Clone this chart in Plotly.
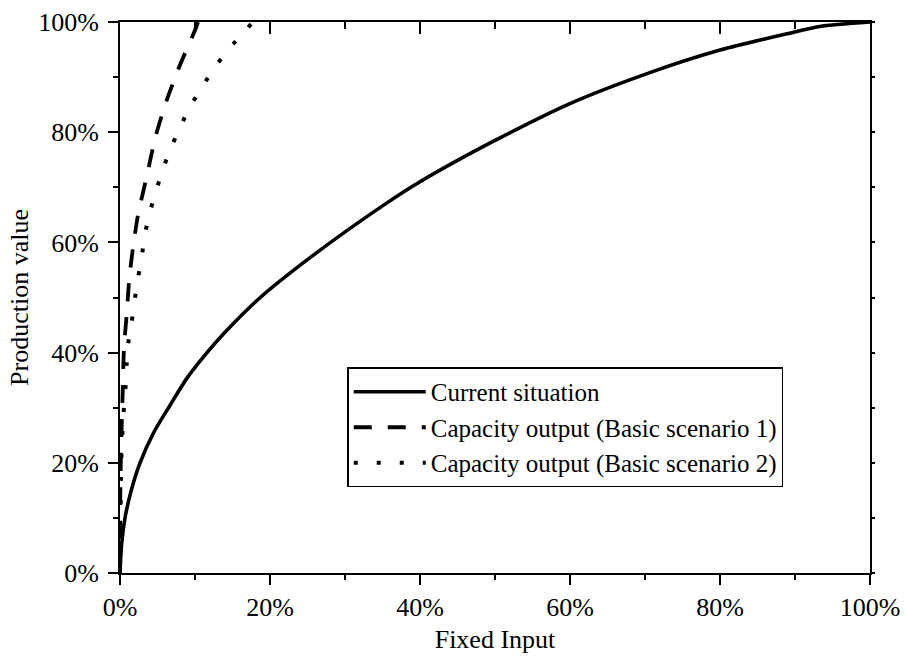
import plotly.graph_objects as go

# Current situation
current_x = [0, 0.002, 0.0067, 0.015, 0.0267, 0.045, 0.067, 0.09, 0.116, 0.14, 0.187, 0.253,
             0.353, 0.40, 0.50, 0.60, 0.70, 0.80, 0.90, 0.933, 1.0]
current_y = [0, 0.05, 0.10, 0.15, 0.20, 0.255, 0.305, 0.355, 0.40, 0.437, 0.50, 0.572,
             0.669, 0.71, 0.785, 0.852, 0.905, 0.949, 0.982, 0.992, 1.0]

# Capacity output (Basic scenario 1)
s1_x = [0, 0.0003, 0.0013, 0.0022, 0.0036, 0.0053, 0.009, 0.0124, 0.0178, 0.024, 0.036,
        0.047, 0.062, 0.080, 0.100, 0.104]
s1_y = [0, 0.13, 0.22, 0.265, 0.33, 0.41, 0.47, 0.535, 0.595, 0.65, 0.722,
        0.79, 0.857, 0.922, 0.985, 1.0]

# Capacity output (Basic scenario 2)
s2_x = [0, 0.0004, 0.0009, 0.0013, 0.0022, 0.0036, 0.0053, 0.0076, 0.0089, 0.011, 0.0156,
        0.020, 0.024, 0.029, 0.033, 0.039, 0.047, 0.056, 0.066, 0.079, 0.092, 0.109,
        0.128, 0.151, 0.176]
s2_y = [0, 0.08, 0.132, 0.175, 0.223, 0.266, 0.302, 0.341, 0.381, 0.417, 0.456,
        0.499, 0.535, 0.574, 0.613, 0.65, 0.689, 0.727, 0.766, 0.805, 0.843, 0.881,
        0.921, 0.96, 0.998]

names = ["Current situation", "Capacity output (Basic scenario 1)",
         "Capacity output (Basic scenario 2)"]

FONT = "Liberation Serif, Times New Roman, serif"

fig = go.Figure()
fig.add_trace(go.Scatter(x=current_x, y=current_y, mode="lines", name=names[0],
                         line=dict(color="black", width=3.6, shape="spline", smoothing=0.8)))
fig.add_trace(go.Scatter(x=s1_x, y=s1_y, mode="lines", name=names[1],
                         line=dict(color="black", width=3.8, dash="18px,16px",
                                   shape="spline", smoothing=0.6)))
fig.add_trace(go.Scatter(x=s2_x, y=s2_y, mode="lines", name=names[2],
                         line=dict(color="black", width=4, dash="4px,19px",
                                   shape="spline", smoothing=0.6)))
# invisible trace for mirrored axes
fig.add_trace(go.Scatter(x=[0, 1], y=[0, 1], xaxis="x2", yaxis="y2", mode="lines",
                         line=dict(width=0, color="rgba(0,0,0,0)"), showlegend=False,
                         hoverinfo="skip"))

fig.update_layout(
    width=905, height=664,
    margin=dict(l=120, r=35, t=22, b=91),
    paper_bgcolor="white", plot_bgcolor="white",
    font=dict(family=FONT, size=26, color="black"),
    showlegend=True,
    legend=dict(x=0.303, y=0.373, xanchor="left", yanchor="top",
                bordercolor="black", borderwidth=1.5, bgcolor="white",
                font=dict(family=FONT, size=25, color="black"),
                itemwidth=72, tracegroupgap=0),
    xaxis=dict(range=[0, 1], tickformat=".0%", dtick=0.2, tick0=0,
               showgrid=False, zeroline=False, showline=True, linecolor="black",
               linewidth=2, ticks="outside", ticklen=10, tickwidth=2, tickcolor="black",
               minor=dict(dtick=0.1, ticks="outside", ticklen=5, tickwidth=2,
                          tickcolor="black", showgrid=False),
               title=dict(text="Fixed Input", standoff=9,
                          font=dict(family=FONT, size=26)),
               automargin=False),
    yaxis=dict(range=[0, 1], tickformat=".0%", dtick=0.2, tick0=0,
               showgrid=False, zeroline=False, showline=True, linecolor="black",
               linewidth=2, ticks="outside", ticklen=10, tickwidth=2, tickcolor="black",
               minor=dict(dtick=0.1, ticks="outside", ticklen=5, tickwidth=2,
                          tickcolor="black", showgrid=False),
               ticklabelstandoff=4,
               title=dict(text="Production value", standoff=2,
                          font=dict(family=FONT, size=26)),
               automargin=False),
    xaxis2=dict(range=[0, 1], overlaying="x", side="top", showticklabels=False,
                dtick=0.2, tick0=0, showgrid=False, zeroline=False, showline=True,
                linecolor="black", linewidth=2, ticks="inside", ticklen=12,
                tickwidth=2, tickcolor="black",
                minor=dict(dtick=0.1, ticks="inside", ticklen=7, tickwidth=2,
                           tickcolor="black", showgrid=False)),
    yaxis2=dict(range=[0, 1], overlaying="y", side="right", showticklabels=False,
                dtick=0.1, tick0=0, showgrid=False, zeroline=False, showline=True,
                linecolor="black", linewidth=2, ticks="outside", ticklen=3,
                tickwidth=1.5, tickcolor="black"),
)

fig.write_html("out.html")
